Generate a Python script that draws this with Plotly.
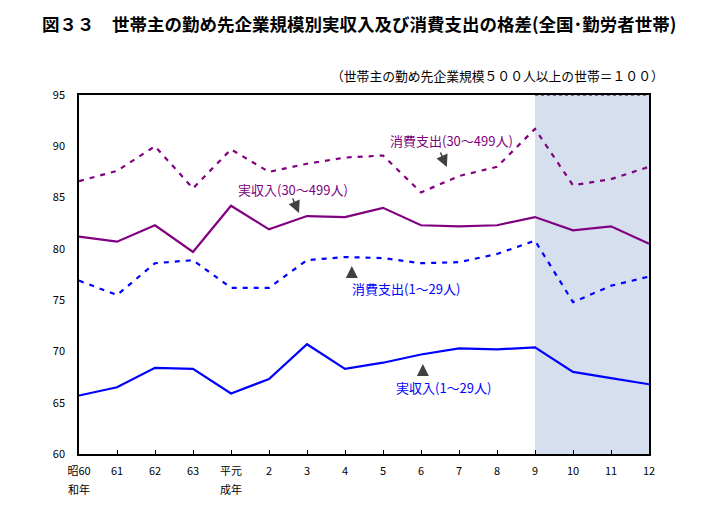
import plotly.graph_objects as go

years = ["昭60", "61", "62", "63", "平元", "2", "3", "4", "5", "6", "7", "8", "9", "10", "11", "12"]
era_suffix = {0: "和年", 4: "成年"}
shunyu_30_499 = [81.2, 80.7, 82.3, 79.7, 84.2, 81.9, 83.2, 83.1, 84.0, 82.3, 82.2, 82.3, 83.1, 81.8, 82.2, 80.5]
shishutsu_30_499 = [86.6, 87.6, 90.0, 85.9, 89.7, 87.5, 88.3, 88.9, 89.1, 85.5, 87.1, 88.0, 91.7, 86.2, 86.8, 88.0]
shunyu_1_29 = [65.7, 66.5, 68.4, 68.3, 65.9, 67.3, 70.7, 68.3, 68.9, 69.7, 70.3, 70.2, 70.4, 68.0, 67.4, 66.8]
shishutsu_1_29 = [76.9, 75.5, 78.6, 78.9, 76.2, 76.2, 78.9, 79.2, 79.1, 78.6, 78.7, 79.5, 80.8, 74.8, 76.4, 77.3]

PURPLE = "#800080"
BLUE = "#0000ff"
FONT = "Noto Sans CJK JP"
xs = list(range(len(years)))

fig = go.Figure()
fig.add_shape(type="rect", xref="x", yref="y", x0=12, x1=15, y0=60, y1=95,
              fillcolor="#d6dfee", line=dict(width=0), layer="below")
fig.add_shape(type="line", xref="x", yref="y", x0=12, x1=15, y0=95, y1=95,
              line=dict(color="black", width=1, dash="dot"), layer="above")

def add(vals, color, dash):
    fig.add_trace(go.Scatter(x=xs, y=vals, mode="lines",
                             line=dict(color=color, width=2.2, dash=dash),
                             showlegend=False, hoverinfo="skip"))

add(shishutsu_30_499, PURPLE, "5px,6px")
add(shunyu_30_499, PURPLE, "solid")
add(shishutsu_1_29, BLUE, "5px,6px")
add(shunyu_1_29, BLUE, "solid")

labels = [
    dict(text="消費支出(30～499人)", x=9.79, y=90.55, color=PURPLE),
    dict(text="実収入(30～499人)", x=5.63, y=85.75, color=PURPLE),
    dict(text="消費支出(1～29人)", x=8.6, y=76.1, color=BLUE),
    dict(text="実収入(1～29人)", x=9.58, y=66.5, color=BLUE),
]
for l in labels:
    fig.add_annotation(x=l["x"], y=l["y"], text=l["text"], showarrow=False,
                       font=dict(family=FONT, size=13, color=l["color"]),
                       xanchor="center", yanchor="middle")

arrows = [
    dict(x=9.68, y=87.98, ax=-7, ay=-16),
    dict(x=5.79, y=83.5, ax=-7, ay=-16),
    dict(x=7.18, y=78.33, ax=0, ay=13),
    dict(x=9.05, y=68.78, ax=0, ay=10),
]
for a in arrows:
    fig.add_annotation(x=a["x"], y=a["y"], ax=a["ax"], ay=a["ay"], text="",
                       showarrow=True, arrowhead=2, arrowsize=1.6, arrowwidth=1.5,
                       arrowcolor="#404040")

for i, s in era_suffix.items():
    fig.add_annotation(x=i, y=60, yshift=-35, text=s, showarrow=False,
                       font=dict(family=FONT, size=11, color="#000000"),
                       xanchor="center", yanchor="middle")

fig.add_annotation(xref="paper", yref="paper", x=-0.068, y=1.2, xanchor="left", yanchor="middle",
                   text="<b>図３３　世帯主の勤め先企業規模別実収入及び消費支出の格差(全国･勤労者世帯)</b>",
                   showarrow=False, font=dict(family=FONT, size=17.5, color="#000000"))
fig.add_annotation(xref="paper", yref="paper", x=1.03, y=1.053, xanchor="right", yanchor="middle",
                   text="（世帯主の勤め先企業規模５００人以上の世帯＝１００）",
                   showarrow=False, font=dict(family=FONT, size=12.8, color="#000000"))

fig.update_layout(
    width=707, height=521,
    margin=dict(l=71, r=66, t=87, b=75),
    paper_bgcolor="white", plot_bgcolor="white",
    font=dict(family=FONT, size=11, color="#000000"),
    xaxis=dict(range=[0, 15], tickmode="array", tickvals=xs, ticktext=years,
               showgrid=False, zeroline=False, showline=True, linecolor="black", linewidth=1.5,
               mirror=True, ticks="inside", ticklen=4, tickcolor="black",
               tickfont=dict(family=FONT, size=11), ticklabelstandoff=6),
    yaxis=dict(range=[60, 95], tickvals=[60, 65, 70, 75, 80, 85, 90, 95],
               showgrid=False, zeroline=False, showline=True, linecolor="black", linewidth=1.5,
               mirror=True, ticks="", tickfont=dict(family=FONT, size=11), ticklabelstandoff=10),
)

fig.write_html("out.html")
